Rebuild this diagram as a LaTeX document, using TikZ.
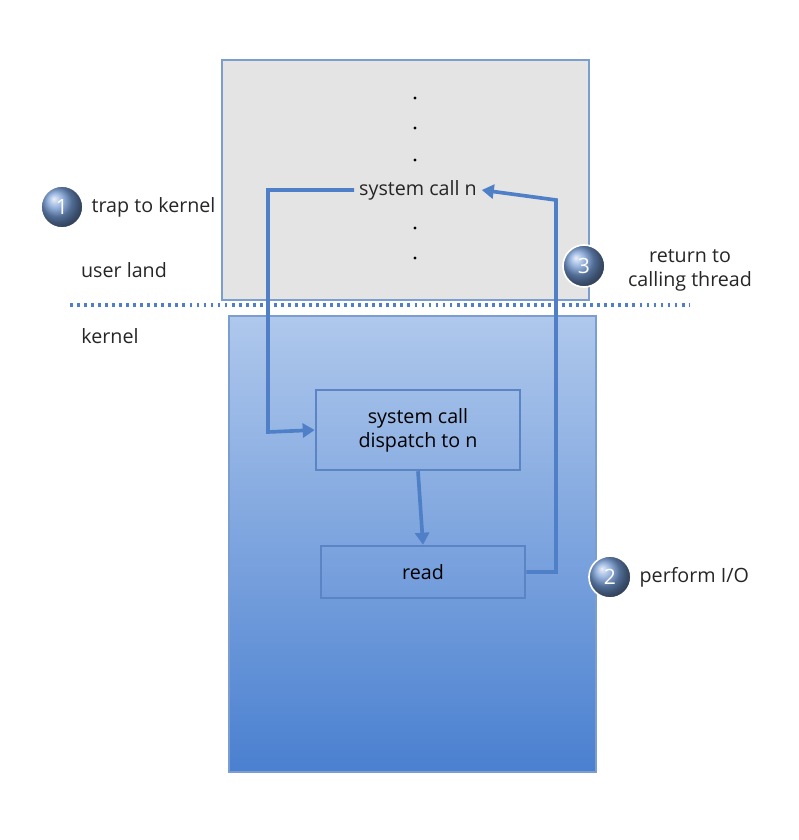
\documentclass[tikz,border=0pt]{standalone}
\usepackage{fontspec}
\setmainfont{Open Sans}
\usetikzlibrary{arrows.meta,positioning}
\definecolor{edgeblue}{HTML}{5B84C4}
\definecolor{lineblue}{HTML}{4F7FC6}
\definecolor{topblue}{HTML}{AFC8EC}
\definecolor{botblue}{HTML}{4A80D0}
\definecolor{graybox}{HTML}{E4E4E4}
\tikzset{
  lbl/.style={font=\fontsize{14}{17}\selectfont,align=center,text=black!85},
  box/.style={draw=edgeblue,line width=1.8pt,minimum width=5.1cm,align=center,
              font=\fontsize{14}{17}\selectfont},
  badge/.style={circle,ball color=lineblue!80,draw=white,line width=1.2pt,
               minimum size=1.05cm,text=white,font=\fontsize{15}{17}\selectfont},
  flow/.style={-{Triangle[length=3mm,width=3.5mm]},line width=2.6pt,draw=lineblue}
}
\begin{document}
\begin{tikzpicture}[x=0.025cm,y=-0.025cm]
  \useasboundingbox (0,0) rectangle (798,840);
  % user land and kernel areas
  \fill[graybox,draw=edgeblue!80,line width=1pt] (222,60) rectangle (589,300);
  \shade[top color=topblue,bottom color=botblue,draw=edgeblue!80,line width=1pt]
    (229,316) rectangle (596,772);
  \draw[lineblue,line width=2.5pt,dash pattern=on 2pt off 3pt] (70,305) -- (690,305);
  \foreach \y in {98,128,160,228,258} \fill (415,\y) circle (1.6);
  \node[lbl] (sysn) at (418,190) {system call n};
  % kernel side boxes
  \node[box,minimum height=2cm] (disp) at (418,430) {system call\\dispatch to n};
  \node[box,minimum height=1.3cm] (read) at (423,572) {read};
  \draw[flow] (sysn.west) -| (268,432) -- (disp.west);
  \draw[flow] (disp.south) -- (read.north);
  \draw[flow] (read.east) -| (556,200) -- (sysn.east);
  % steps
  \node[badge] (s1) at (62,207) {1};
  \node[lbl,right=2pt of s1] (trap) {trap to kernel};
  \node[badge] (s3) at (584,266) {3};
  \node[lbl] (ret) at (690,270) {return to\\calling thread};
  \node[badge] (s2) at (610,577) {2};
  \node[lbl,right=2pt of s2] (pio) {perform I/O};
  \node[lbl] (user) at (124,270) {user land};
  \node[lbl] (kern) at (110,336) {kernel};
\end{tikzpicture}
\end{document}
